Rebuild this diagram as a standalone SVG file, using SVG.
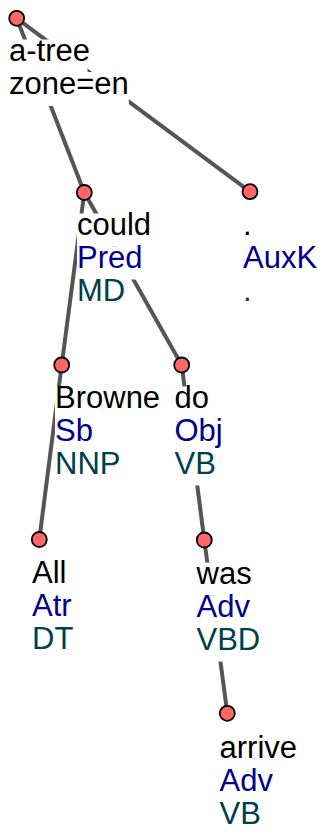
<svg xmlns="http://www.w3.org/2000/svg" width="322" height="834" viewBox="0 0 322 834">
<style>
.e{stroke:#555555;stroke-width:4;fill:none}
.bg{fill:#ffffff}
text{font-family:"Liberation Sans",Arial,sans-serif;font-size:31px}
.l1{fill:#000000}
.l2{fill:#00008b}
.l3{fill:#004048}
.n{fill:#ff6666;stroke:#000000;stroke-width:1.8}
</style>
<rect width="322" height="834" fill="#ffffff"/>
<g id="edges">
<line class="e" x1="16.7" y1="18.3" x2="84.3" y2="192.5"/>
<line class="e" x1="16.7" y1="18.3" x2="250" y2="191.7"/>
<line class="e" x1="84.3" y1="192.5" x2="61.7" y2="365"/>
<line class="e" x1="84.3" y1="192.5" x2="181.7" y2="365"/>
<line class="e" x1="61.7" y1="365" x2="39.3" y2="539.5"/>
<line class="e" x1="181.7" y1="365" x2="204.3" y2="540"/>
<line class="e" x1="204.3" y1="540" x2="227.3" y2="713.3"/>
</g>
<g id="n-root">
<rect class="bg" x="9" y="39.5" width="78.5" height="33"/>
<rect class="bg" x="9" y="72" width="119.8" height="34"/>
<text class="l1" x="9" y="60.5">a-tree</text>
<text class="l1" x="9" y="94">zone=en</text>
<circle class="n" cx="16.7" cy="18.3" r="7.5"/>
</g>
<g id="n-could">
<rect class="bg" x="77" y="213.5" width="74.1" height="33"/>
<rect class="bg" x="77" y="246.5" width="65.5" height="33"/>
<rect class="bg" x="77" y="279.5" width="48.2" height="33"/>
<text class="l1" x="77" y="234.5">could</text>
<text class="l2" x="77" y="267.5">Pred</text>
<text class="l3" x="77" y="300.5">MD</text>
<circle class="n" cx="84.3" cy="192.5" r="7.5"/>
</g>
<g id="n-dot">
<rect class="bg" x="243" y="213.5" width="8.6" height="33"/>
<rect class="bg" x="243" y="246.5" width="74.1" height="33"/>
<rect class="bg" x="243" y="279.5" width="8.6" height="33"/>
<text class="l1" x="243" y="234.5">.</text>
<text class="l2" x="243" y="267.5">AuxK</text>
<text class="l3" x="243" y="300.5">.</text>
<circle class="n" cx="250" cy="191.7" r="7.5"/>
</g>
<g id="n-browne">
<rect class="bg" x="55" y="386.5" width="105.1" height="33"/>
<rect class="bg" x="55" y="419.5" width="37.9" height="33"/>
<rect class="bg" x="55" y="452.5" width="65.4" height="33"/>
<text class="l1" x="55" y="407.5">Browne</text>
<text class="l2" x="55" y="440.5">Sb</text>
<text class="l3" x="55" y="473.5">NNP</text>
<circle class="n" cx="61.7" cy="365" r="7.5"/>
</g>
<g id="n-do">
<rect class="bg" x="174.5" y="386.5" width="34.5" height="33"/>
<rect class="bg" x="174.5" y="419.5" width="48.2" height="33"/>
<rect class="bg" x="174.5" y="452.5" width="41.4" height="33"/>
<text class="l1" x="174.5" y="407.5">do</text>
<text class="l2" x="174.5" y="440.5">Obj</text>
<text class="l3" x="174.5" y="473.5">VB</text>
<circle class="n" cx="181.7" cy="365" r="7.5"/>
</g>
<g id="n-all">
<rect class="bg" x="32" y="562" width="34.4" height="33"/>
<rect class="bg" x="32" y="595" width="39.6" height="33"/>
<rect class="bg" x="32" y="628" width="41.3" height="33"/>
<text class="l1" x="32" y="583">All</text>
<text class="l2" x="32" y="616">Atr</text>
<text class="l3" x="32" y="649">DT</text>
<circle class="n" cx="39.3" cy="539.5" r="7.5"/>
</g>
<g id="n-was">
<rect class="bg" x="196.5" y="562.5" width="55.1" height="33"/>
<rect class="bg" x="196.5" y="595.5" width="53.4" height="33"/>
<rect class="bg" x="196.5" y="628.5" width="63.7" height="33"/>
<text class="l1" x="196.5" y="583.5">was</text>
<text class="l2" x="196.5" y="616.5">Adv</text>
<text class="l3" x="196.5" y="649.5">VBD</text>
<circle class="n" cx="204.3" cy="540" r="7.5"/>
</g>
<g id="n-arrive">
<rect class="bg" x="219.5" y="736.5" width="77.5" height="33"/>
<rect class="bg" x="219.5" y="769.5" width="53.4" height="33"/>
<rect class="bg" x="219.5" y="802.5" width="41.4" height="33"/>
<text class="l1" x="219.5" y="757.5">arrive</text>
<text class="l2" x="219.5" y="790.5">Adv</text>
<text class="l3" x="219.5" y="823.5">VB</text>
<circle class="n" cx="227.3" cy="713.3" r="7.5"/>
</g>
</svg>
